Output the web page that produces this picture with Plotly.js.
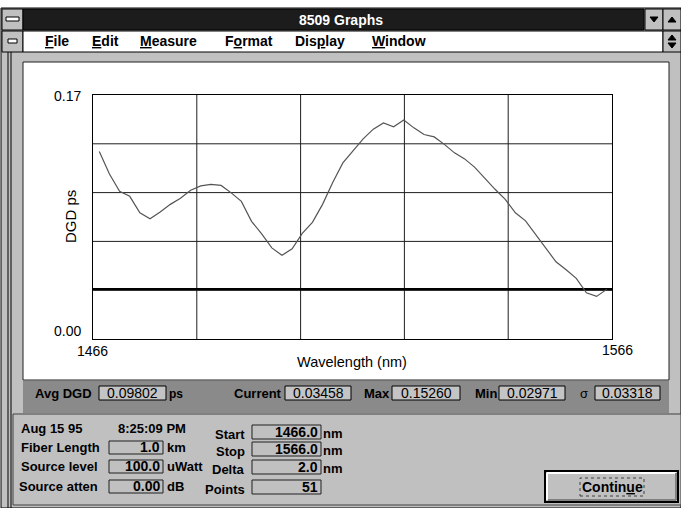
<!DOCTYPE html>
<html><head><meta charset="utf-8">
<script src="https://cdn.plot.ly/plotly-3.0.1.min.js"></script>
<style>html,body{margin:0;padding:0;background:#fff;overflow:hidden}</style>
</head><body><div id="chart" style="width:681px;height:508px"></div>
<script>
// ---- data ----
const wavelengthNm = [1466,1468,1470,1472,1474,1476,1478,1480,1482,1484,1486,1488,1490,1492,1494,1496,1498,1500,1502,1504,1506,1508,1510,1512,1514,1516,1518,1520,1522,1524,1526,1528,1530,1532,1534,1536,1538,1540,1542,1544,1546,1548,1550,1552,1554,1556,1558,1560,1562,1564,1566];
const dgdPs = [0.1306,0.1150,0.1029,0.0994,0.0879,0.0837,0.0885,0.0938,0.0981,0.1036,0.1067,0.1077,0.1070,0.1018,0.0959,0.0820,0.0733,0.0635,0.0583,0.0628,0.0736,0.0813,0.0938,0.1091,0.1227,0.1311,0.1394,0.1462,0.1505,0.1478,0.1526,0.1471,0.1425,0.1408,0.1356,0.1297,0.1255,0.1196,0.1116,0.1043,0.0973,0.0879,0.0823,0.0729,0.0628,0.0538,0.0482,0.0423,0.0322,0.0297,0.03458];
const yTickLabels = ['0.17','0.00'];
const xTickLabels = ['1466','1566'];
const yRange = [0, 0.17];
const statLabels = ['Avg DGD','Current','Max','Min','σ'];
const statValues = ['0.09802','0.03458','0.15260','0.02971','0.03318'];
const currentDgd = 0.03458;
const menuItems = ['<u>F</u>ile','<u>E</u>dit','<u>M</u>easure','F<u>o</u>rmat','Dis<u>p</u>lay','<u>W</u>indow'];
const infoLeftLabels = ['Fiber Length','Source level','Source atten'];
const infoLeftValues = ['1.0','100.0','0.00'];
const infoLeftUnits = ['km','uWatt','dB'];
const infoRightLabels = ['Start','Stop','Delta','Points'];
const infoRightValues = ['1466.0','1566.0','2.0','51'];
const infoRightUnits = ['nm','nm','nm',''];

// ---- pixel helpers (layout only) ----
const L=93,R=612,T=95,B=339;
const px = x => (x-L)/(R-L);
const py = y => (B-y)/(B-T);
const shapes=[], ann=[];
const FONT='"Liberation Sans", Arial, sans-serif';
function rect(x0,y0,x1,y1,fill,line,lw,dash){
  shapes.push({type:'rect',xref:'paper',yref:'paper',x0:px(x0),x1:px(x1),y0:py(y1),y1:py(y0),
    fillcolor:fill,line:{color:line||'rgba(0,0,0,0)',width:lw==null?1:lw,dash:dash||'solid'},layer:'below'});
}
function hline(x0,x1,y,c,w){shapes.push({type:'line',xref:'paper',yref:'paper',x0:px(x0),x1:px(x1),y0:py(y),y1:py(y),line:{color:c,width:w||1},layer:'below'});}
function vline(x,y0,y1,c,w){shapes.push({type:'line',xref:'paper',yref:'paper',x0:px(x),x1:px(x),y0:py(y0),y1:py(y1),line:{color:c,width:w||1},layer:'below'});}
function tri(pts,c){
  let d='M'+pts.map(p=>px(p[0])+','+py(p[1])).join(' L')+' Z';
  shapes.push({type:'path',xref:'paper',yref:'paper',path:d,fillcolor:c,line:{color:c,width:1},layer:'below'});
}
function text(x,y,s,anchor,size,color,bold,extra){
  ann.push(Object.assign({xref:'paper',yref:'paper',x:px(x),y:py(y),text:bold?'<b>'+s+'</b>':s,showarrow:false,
    xanchor:anchor||'left',yanchor:'middle',borderpad:0,borderwidth:0,
    font:{family:FONT,size:size||13,color:color||'#000'}},extra||{}));
}

// window frame
rect(1,8,681,508,'#c0c0c0','#000',1);
vline(8,52,508,'#000',1); vline(11,52,508,'#000',1);
// title bar
rect(2,9,23,30,'#c0c0c0','#000',1);
rect(6,17,19,21,'#fff','#000',1);
rect(23,9,644,30,'#1c1c1c','#000',1);
text(341,20,'8509 Graphs','center',14,'#fff',true);
rect(645,9,663,30,'#c0c0c0','#000',1);
tri([[650,17],[658,17],[654,22]],'#000');
rect(663,9,681,30,'#c0c0c0','#000',1);
tri([[668,22],[676,22],[672,17]],'#000');
// menu bar
rect(2,31,23,52,'#c0c0c0','#000',1);
rect(8,39,17,43,'#fff','#000',1);
rect(23,31,663,52,'#fff','#000',1);
rect(663,31,681,52,'#c0c0c0','#000',1);
tri([[668,40],[676,40],[672,35]],'#000');
tri([[668,43],[676,43],[672,48]],'#000');
const menuX=[45,92,140,225,295,372];
menuItems.forEach((m,i)=>text(menuX[i],41,m,'left',14,'#000',true));
// chart panel
rect(23,62,669,380,'#fff','#202020',1);
// stat bar
rect(23,381,669,413,'#8a8a8a',null,0);
const statLabelX=[92,282,390,497,584];
const statBox=[[99,166],[285,351],[392,460],[499,565],[595,660]];
statLabels.forEach((s,i)=>{
  text(statLabelX[i],393,s,i==4?'center':'right',13,'#000',i!=4);
  rect(statBox[i][0],386,statBox[i][1],400,'#c4c4c4','#000',1);
  text((statBox[i][0]+statBox[i][1])/2,393,statValues[i],'center',14,'#000',false);
});
text(169,394,'ps','left',12,'#000',true);
// bottom info panel
rect(13,414,681,505,'#c0c0c0','#404040',1);
text(21,428,'Aug 15 95','left',13,'#000',true);
text(118,428,'8:25:09 PM','left',13,'#000',true);
const leftRowsY=[447,466,486];
infoLeftLabels.forEach((s,i)=>{
  text(i==2?19:21,leftRowsY[i],s,'left',13,'#000',true);
  rect(109,leftRowsY[i]-6,163,leftRowsY[i]+7,'#c0c0c0','#202020',1);
  text(160,leftRowsY[i],infoLeftValues[i],'right',14,'#000',true);
  text(167,leftRowsY[i],infoLeftUnits[i],'left',13,'#000',true);
});
const rightRowsY=[432,449,467,487];
infoRightLabels.forEach((s,i)=>{
  text(245,rightRowsY[i]+2,s,'right',13,'#000',true);
  rect(252,rightRowsY[i]-7,321,rightRowsY[i]+7,'#c0c0c0','#202020',1);
  text(318,rightRowsY[i],infoRightValues[i],'right',14,'#000',true);
  if(infoRightUnits[i]) text(323,rightRowsY[i]+1,infoRightUnits[i],'left',13,'#000',true);
});
// Continue button
rect(545,471,678,502,'#c0c0c0','#000',2);
hline(547,676,473,'#fff',2); vline(547,473,500,'#fff',2);
hline(548,676,500,'#808080',2); vline(676,473,500,'#808080',2);
rect(580,478,644,496,'rgba(0,0,0,0)','#404040',1,'dot');
text(612,487,'Contin<u>u</u>e','center',14,'#000',true);

// axis labels (read as text in the picture)
text(81,95.5,yTickLabels[0],'right',14,'#000',false);
text(81,330.5,yTickLabels[1],'right',14,'#000',false);
text(92.5,350.5,xTickLabels[0],'center',14,'#000',false);
text(617,349.5,xTickLabels[1],'center',14,'#000',false);
text(352,362,'Wavelength (nm)','center',14.5,'#000',false);
text(70,217,'DGD ps','center',15,'#000',false,{textangle:-90});

// grid
[0.2,0.4,0.6,0.8].forEach(f=>{
  shapes.push({type:'line',xref:'x domain',yref:'y domain',x0:f,x1:f,y0:0,y1:1,line:{color:'#1e1e1e',width:1},layer:'below'});
  shapes.push({type:'line',xref:'x domain',yref:'y domain',x0:0,x1:1,y0:f,y1:f,line:{color:'#1e1e1e',width:1},layer:'below'});
});
shapes.push({type:'line',xref:'x domain',yref:'y',x0:0,x1:1,y0:currentDgd,y1:currentDgd,line:{color:'#000',width:2.5},layer:'below'});

const trace={x:wavelengthNm,y:dgdPs,type:'scatter',mode:'lines',line:{color:'#555',width:1.2},hoverinfo:'skip'};
const layout={width:681,height:508,margin:{l:L,r:681-R,t:T,b:508-B},
  paper_bgcolor:'#fff',plot_bgcolor:'rgba(0,0,0,0)',showlegend:false,
  xaxis:{range:[1464.76,1567.04],showgrid:false,zeroline:false,showticklabels:false,ticks:'',showline:true,mirror:true,linecolor:'#000',linewidth:1,fixedrange:true},
  yaxis:{range:yRange,showgrid:false,zeroline:false,showticklabels:false,ticks:'',showline:true,mirror:true,linecolor:'#000',linewidth:1,fixedrange:true},
  shapes:shapes,annotations:ann,font:{family:FONT}};
Plotly.newPlot('chart',[trace],layout,{staticPlot:true,displayModeBar:false});
</script></body></html>
